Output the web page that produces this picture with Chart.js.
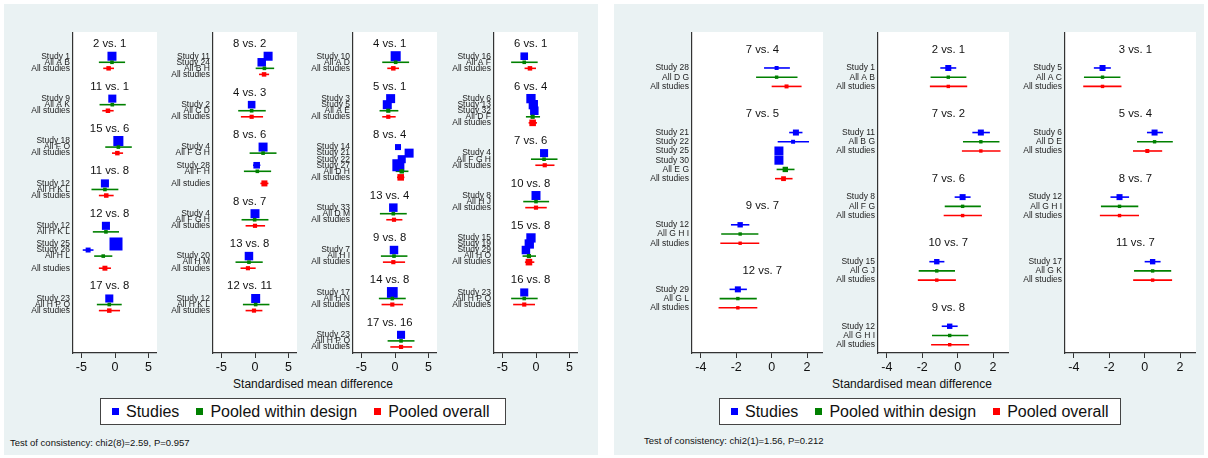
<!DOCTYPE html>
<html>
<head>
<meta charset="utf-8">
<script src="https://cdn.jsdelivr.net/npm/chart.js@4.4.1/dist/chart.umd.min.js"></script>
<style>
  html, body { margin: 0; padding: 0; }
  body { width: 1208px; height: 458px; position: relative; overflow: hidden; background: #fff;
         font-family: "Liberation Sans", Arial, sans-serif; }
  .panel { position: absolute; top: 4px; height: 451px; background: #eaf2f3; }
  canvas { position: absolute; }
  .title { position: absolute; top: 377px; font-size: 12px; color: #111; text-align: center; }
  .legend { position: absolute; top: 398px; height: 27px; background: #fff; border: 1px solid #444;
            display: flex; align-items: center; font-size: 16px; color: #111; box-sizing: border-box; }
  .legend .it { display: flex; align-items: center; margin-left: 11px; margin-right: 6px; }
  .legend .sw { display: inline-block; width: 7px; height: 7px; margin-right: 7px; }
  .note { position: absolute; font-size: 9.5px; color: #111; }
</style>
</head>
<body>
<div class="panel" style="left:4px;width:594px"></div>
<div class="panel" style="left:614px;width:590px"></div>

<div class="title" style="left:73px;width:480px">Standardised mean difference</div>
<div class="title" style="left:692px;width:440px">Standardised mean difference</div>

<div class="legend" style="left:100px;width:406px">
  <div class="it"><span class="sw" style="background:#0000ff"></span>Studies</div>
  <div class="it"><span class="sw" style="background:#008000"></span>Pooled within design</div>
  <div class="it"><span class="sw" style="background:#ff0000"></span>Pooled overall</div>
</div>
<div class="legend" style="left:719px;width:402px">
  <div class="it"><span class="sw" style="background:#0000ff"></span>Studies</div>
  <div class="it"><span class="sw" style="background:#008000"></span>Pooled within design</div>
  <div class="it"><span class="sw" style="background:#ff0000"></span>Pooled overall</div>
</div>

<div class="note" style="left:10px;top:437px">Test of consistency: chi2(8)=2.59, P=0.957</div>
<div class="note" style="left:644px;top:435px">Test of consistency: chi2(1)=1.56, P=0.212</div>

<script>
// ---- left figure, column 1 ----
const L1_rows = ['2 vs. 1', '', 'Study 1', 'All A B', 'All studies', '', '',
  '11 vs. 1', '', 'Study 9', 'All A K', 'All studies', '', '',
  '15 vs. 6', '', 'Study 18', 'All F O', 'All studies', '', '',
  '11 vs. 8', '', 'Study 12', 'All H K L', 'All studies', '', '',
  '12 vs. 8', '', 'Study 12', 'All H K L', '', 'Study 25', 'Study 26', 'All H L', '', 'All studies', '', '',
  '17 vs. 8', '', 'Study 23', 'All H P Q', 'All studies'];
const L1_est = [-0.45, -0.45, -0.95,  -0.4, -0.4, -1.05,  0.5, 0.5, 0.35,  -1.5, -1.5, -1.3,
  -1.35, -1.35, 0.15, -4.0, -1.75, -1.5,  -0.85, -0.85, -0.85];
const L1_lo = [-0.9, -2.4, -1.75,  -0.85, -2.3, -1.9,  0.0, -1.45, -0.45,  -2.0, -3.5, -2.4,
  -1.85, -3.3, -0.3, -4.8, -3.1, -2.4,  -1.3, -2.7, -2.4];
const L1_hi = [0.0, 1.5, -0.15,  0.05, 1.6, -0.2,  1.0, 2.5, 1.2,  -1.0, 0.5, -0.2,
  -0.85, 0.6, 0.6, -3.2, -0.4, -0.6,  -0.4, 1.0, 0.75];
const L1_wt = [56, 9, 14,  45, 9, 14,  70, 9, 14,  45, 9, 14,  45, 9, 117, 17, 9, 17,  45, 9, 14];

// ---- left figure, column 2 ----
const L2_rows = ['8 vs. 2', '', 'Study 11', 'Study 24', 'All B H', 'All studies', '', '',
  '4 vs. 3', '', 'Study 2', 'All C D', 'All studies', '', '',
  '8 vs. 6', '', 'Study 4', 'All F G H', '', 'Study 28', 'All F H', '', 'All studies', '', '',
  '8 vs. 7', '', 'Study 4', 'All F G H', 'All studies', '', '',
  '13 vs. 8', '', 'Study 20', 'All H M', 'All studies', '', '',
  '12 vs. 11', '', 'Study 12', 'All H K L', 'All studies'];
const L2_est = [1.95, 1.0, 1.4, 1.35,  -0.5, -0.5, -0.5,  1.2, 1.2, 0.25, 0.35, 1.4,
  0.0, -0.05, 0.0,  -0.9, -0.9, -1.05,  0.1, 0.1, -0.15];
const L2_lo = [1.5, 0.55, 0.1, 0.6,  -0.95, -2.5, -2.1,  0.7, -0.8, -0.3, -1.65, 0.8,
  -0.5, -2.0, -1.4,  -1.4, -2.9, -2.15,  -0.4, -1.8, -1.4];
const L2_hi = [2.4, 1.45, 2.85, 2.1,  -0.05, 1.6, 1.2,  1.7, 3.2, 0.8, 2.4, 2.0,
  0.5, 2.0, 1.5,  -0.4, 1.15, 0.1,  0.6, 2.15, 1.1];
const L2_wt = [56, 50, 9, 14,  40, 9, 12,  56, 9, 30, 9, 25,  56, 9, 12,  50, 9, 12,  56, 9, 12];

// ---- left figure, column 3 ----
const L3_rows = ['4 vs. 1', '', 'Study 10', 'All A D', 'All studies', '', '',
  '5 vs. 1', '', 'Study 3', 'Study 5', 'All A E', 'All studies', '', '',
  '8 vs. 4', '', 'Study 14', 'Study 21', 'Study 22', 'Study 27', 'All D H', 'All studies', '', '',
  '13 vs. 4', '', 'Study 33', 'All D M', 'All studies', '', '',
  '9 vs. 8', '', 'Study 7', 'All H I', 'All studies', '', '',
  '14 vs. 8', '', 'Study 17', 'All H N', 'All studies', '', '',
  '17 vs. 16', '', 'Study 23', 'All H P Q', 'All studies'];
const L3_est = [0.1, 0.1, -0.25,  -0.65, -1.15, -1.0, -1.0,  0.45, 2.1, 1.0, 0.5, 1.0, 0.85,
  -0.25, -0.25, -0.15,  -0.15, -0.15, -0.25,  -0.4, -0.4, -0.4,  0.9, 0.9, 0.9];
const L3_lo = [-0.4, -1.9, -1.15,  -1.15, -1.65, -2.3, -1.9,  0.0, 1.6, 0.5, 0.0, 0.1, 0.3,
  -0.75, -2.25, -1.3,  -0.65, -2.1, -1.8,  -0.9, -2.4, -2.0,  0.4, -1.1, -0.7];
const L3_hi = [0.6, 2.1, 0.6,  -0.15, -0.65, 0.5, 0.1,  0.9, 2.6, 1.5, 1.0, 2.0, 1.4,
  0.25, 1.75, 1.1,  0.35, 1.85, 1.5,  0.1, 1.6, 1.2,  1.4, 2.9, 2.55];
const L3_wt = [70, 9, 14,  56, 56, 12, 12,  25, 56, 45, 100, 14, 30,  50, 9, 12,  50, 9, 12,  80, 9, 12,  45, 9, 12];

// ---- left figure, column 4 ----
const L4_rows = ['6 vs. 1', '', 'Study 16', 'All A F', 'All studies', '', '',
  '6 vs. 4', '', 'Study 6', 'Study 13', 'Study 32', 'All D F', 'All studies', '', '',
  '7 vs. 6', '', 'Study 4', 'All F G H', 'All studies', '', '',
  '10 vs. 8', '', 'Study 8', 'All H J', 'All studies', '', '',
  '15 vs. 8', '', 'Study 15', 'Study 19', 'Study 29', 'All H O', 'All studies', '', '',
  '16 vs. 8', '', 'Study 23', 'All H P Q', 'All studies'];
const L4_est = [-1.75, -1.75, -0.9,  -0.75, -0.4, -0.25, -0.5, -0.5,  1.2, 1.2, 1.3,  0.0, 0.0, 0.0,
  -0.75, -1.0, -1.5, -1.05, -1.05,  -1.75, -1.75, -1.75];
const L4_lo = [-2.25, -3.7, -1.7,  -1.25, -0.9, -0.75, -1.5, -1.1,  0.7, -0.75, -0.1,  -0.5, -1.9, -1.6,
  -1.25, -1.5, -2.0, -2.0, -1.65,  -2.25, -3.7, -3.4];
const L4_hi = [-1.25, 0.25, 0.0,  -0.25, 0.1, 0.25, 0.6, 0.15,  1.7, 3.2, 2.75,  0.5, 1.95, 1.6,
  -0.25, -0.5, -1.0, 0.0, -0.25,  -1.25, 0.25, -0.15];
const L4_wt = [40, 9, 14,  60, 60, 50, 12, 30,  45, 9, 12,  56, 9, 12,  60, 60, 50, 12, 30,  45, 9, 12];

// ---- right figure, column 1 ----
const R1_rows = ['7 vs. 4', '', 'Study 28', 'All D G', 'All studies', '', '',
  '7 vs. 5', '', 'Study 21', 'Study 22', 'Study 25', 'Study 30', 'All E G', 'All studies', '', '',
  '9 vs. 7', '', 'Study 12', 'All G H I', 'All studies', '', '',
  '12 vs. 7', '', 'Study 29', 'All G L', 'All studies'];
const R1_est = [0.28, 0.28, 0.84,  1.37, 1.21, 0.41, 0.41, 0.77, 0.67,  -1.78, -1.78, -1.78,  -1.91, -1.91, -1.91];
const R1_lo = [-0.43, -0.88, 0.0,  0.99, 0.34, 0.2, 0.2, 0.28, 0.19,  -2.3, -2.85, -2.9,  -2.38, -2.94, -3.0];
const R1_hi = [1.03, 1.46, 1.69,  1.74, 2.11, 0.62, 0.62, 1.29, 1.18,  -1.26, -0.75, -0.7,  -1.4, -0.84, -0.81];
const R1_wt = [11, 8, 11,  25, 11, 56, 56, 20, 16,  20, 8, 8,  25, 8, 8];

// ---- right figure, column 2 ----
const R2_rows = ['2 vs. 1', '', 'Study 1', 'All A B', 'All studies', '', '',
  '7 vs. 2', '', 'Study 11', 'All B G', 'All studies', '', '',
  '7 vs. 6', '', 'Study 8', 'All F G', 'All studies', '', '',
  '10 vs. 7', '', 'Study 15', 'All G J', 'All studies', '', '',
  '9 vs. 8', '', 'Study 12', 'All G H I', 'All studies'];
const R2_est = [-0.53, -0.53, -0.53,  1.31, 1.31, 1.31,  0.28, 0.28, 0.28,  -1.18, -1.18, -1.18,  -0.45, -0.45, -0.45];
const R2_lo = [-0.98, -1.53, -1.57,  0.83, 0.3, 0.24,  -0.17, -0.73, -0.79,  -1.6, -2.2, -2.25,  -0.9, -1.45, -1.5];
const R2_hi = [-0.08, 0.49, 0.54,  1.82, 2.36, 2.42,  0.73, 1.31, 1.37,  -0.75, -0.15, -0.1,  0.0, 0.6, 0.65];
const R2_wt = [25, 8, 8,  25, 8, 8,  25, 8, 8,  20, 8, 8,  20, 8, 8];

// ---- right figure, column 3 ----
const R3_rows = ['3 vs. 1', '', 'Study 5', 'All A C', 'All studies', '', '',
  '5 vs. 4', '', 'Study 6', 'All D E', 'All studies', '', '',
  '8 vs. 7', '', 'Study 12', 'All G H I', 'All studies', '', '',
  '11 vs. 7', '', 'Study 17', 'All G K', 'All studies'];
const R3_est = [-2.38, -2.38, -2.38,  0.56, 0.56, 0.15,  -1.42, -1.42, -1.42,  0.45, 0.45, 0.45];
const R3_lo = [-2.87, -3.43, -3.47,  0.13, -0.43, -0.66,  -1.93, -2.47, -2.53,  0.0, -0.6, -0.65];
const R3_hi = [-1.91, -1.37, -1.31,  1.03, 1.59, 0.99,  -0.88, -0.36, -0.32,  0.9, 1.5, 1.55];
const R3_wt = [25, 8, 8,  25, 8, 11,  25, 8, 8,  20, 8, 8];

const xTicksLeft = [-5, 0, 5];
const xTicksRight = [-4, -2, 0, 2];

const FONT = '"Liberation Sans", Arial, sans-serif';
const COLORS = { study: '#0000ff', design: '#008000', overall: '#ff0000' };

// middle of all intervals, used to centre the comparison headings like Stata does
function midpoint(list) {
    let lo = Infinity, hi = -Infinity;
    list.forEach(a => a.forEach(v => { lo = Math.min(lo, v); hi = Math.max(hi, v); }));
    return (lo + hi) / 2;
}

function drawColumn(c) {
    const yW = 70, xH = 26, plotH = 321;
    const canvas = document.createElement('canvas');
    canvas.width = yW + c.plotW;
    canvas.height = plotH + xH;
    canvas.style.left = (c.axisX - yW) + 'px';
    canvas.style.top = '32px';
    document.body.appendChild(canvas);

    const labelAt = {};
    const labelled = [];
    const pts = { study: [], design: [], overall: [] };
    let k = 0;
    c.rows.forEach((r, i) => {
        if (!r || r.includes(' vs. ')) return;
        labelAt[i] = r;
        labelled.push(i);
        const kind = r.startsWith('Study') ? 'study' : (r === 'All studies' ? 'overall' : 'design');
        pts[kind].push({ x: c.est[k], y: i, lo: c.lo[k], hi: c.hi[k], r: 0.85 * Math.sqrt(c.wt[k]) });
        k++;
    });

    const datasets = ['design', 'overall', 'study'].map(kind => ({
        data: pts[kind],
        pointStyle: 'rect',
        pointRadius: pts[kind].map(p => p.r),
        backgroundColor: COLORS[kind],
        borderWidth: 0
    }));

    // white plot region
    const plotBg = {
        id: 'plotBg',
        beforeDraw(chart) {
            const a = chart.chartArea;
            chart.ctx.save();
            chart.ctx.fillStyle = '#fff';
            chart.ctx.fillRect(a.left, a.top, a.right - a.left, a.bottom - a.top);
            chart.ctx.restore();
        }
    };

    // confidence intervals as horizontal lines
    const whiskers = {
        id: 'whiskers',
        beforeDatasetsDraw(chart) {
            const { ctx, scales: { x, y } } = chart;
            ctx.save();
            ctx.lineWidth = 1.6;
            chart.data.datasets.forEach(ds => {
                ctx.strokeStyle = ds.backgroundColor;
                ds.data.forEach(p => {
                    const py = y.getPixelForValue(p.y);
                    ctx.beginPath();
                    ctx.moveTo(x.getPixelForValue(p.lo), py);
                    ctx.lineTo(x.getPixelForValue(p.hi), py);
                    ctx.stroke();
                });
            });
            ctx.restore();
        }
    };

    // "2 vs. 1" headings
    const headings = {
        id: 'headings',
        afterDatasetsDraw(chart) {
            const { ctx, scales: { x, y } } = chart;
            ctx.save();
            ctx.font = '11.3px ' + FONT;
            ctx.fillStyle = '#111';
            ctx.textAlign = 'center';
            ctx.textBaseline = 'middle';
            c.rows.forEach((r, i) => {
                if (r.includes(' vs. ')) ctx.fillText(r, x.getPixelForValue(c.headX), y.getPixelForValue(i));
            });
            ctx.restore();
        }
    };

    return new Chart(canvas, {
        type: 'scatter',
        data: { datasets: datasets },
        plugins: [plotBg, whiskers, headings],
        options: {
            responsive: false,
            animation: false,
            events: [],
            layout: { padding: 0, autoPadding: false },
            plugins: { legend: { display: false }, tooltip: { enabled: false } },
            scales: {
                x: {
                    type: 'linear', min: c.xMin, max: c.xMax,
                    afterBuildTicks: s => { s.ticks = c.xTicks.map(v => ({ value: v })); },
                    afterFit: s => { s.height = xH; s.paddingLeft = 0; s.paddingRight = 0; },
                    grid: { drawOnChartArea: false, drawTicks: true, tickLength: 5, color: '#333', lineWidth: 1 },
                    border: { display: true, color: '#333', width: 1.2 },
                    ticks: { autoSkip: false, maxRotation: 0, padding: 2, color: '#111', font: { family: FONT, size: 12.5 } }
                },
                y: {
                    type: 'linear', reverse: true, min: c.yMin, max: c.yMax,
                    afterBuildTicks: s => { s.ticks = labelled.map(v => ({ value: v })); },
                    afterFit: s => { s.width = yW; s.paddingTop = 0; s.paddingBottom = 0; },
                    grid: { drawOnChartArea: false, drawTicks: false },
                    border: { display: true, color: '#333', width: 1.2 },
                    ticks: { autoSkip: false, padding: 3, color: '#222', font: { family: FONT, size: 8.5 },
                             callback: v => labelAt[v] }
                }
            }
        }
    });
}

const leftMid = midpoint([L1_lo, L1_hi, L2_lo, L2_hi, L3_lo, L3_hi, L4_lo, L4_hi]);
const rightMid = midpoint([R1_lo, R1_hi, R2_lo, R2_hi, R3_lo, R3_hi]);

const leftCols = [
    { rows: L1_rows, est: L1_est, lo: L1_lo, hi: L1_hi, wt: L1_wt, axisX: 73 },
    { rows: L2_rows, est: L2_est, lo: L2_lo, hi: L2_hi, wt: L2_wt, axisX: 213 },
    { rows: L3_rows, est: L3_est, lo: L3_lo, hi: L3_hi, wt: L3_wt, axisX: 353 },
    { rows: L4_rows, est: L4_est, lo: L4_lo, hi: L4_hi, wt: L4_wt, axisX: 494 }
];
leftCols.forEach(c => drawColumn(Object.assign(c, {
    plotW: 84, xMin: -6.25, xMax: 6.25, xTicks: xTicksLeft, yMin: -2, yMax: 51, headX: leftMid
})));

const rightCols = [
    { rows: R1_rows, est: R1_est, lo: R1_lo, hi: R1_hi, wt: R1_wt, axisX: 692 },
    { rows: R2_rows, est: R2_est, lo: R2_lo, hi: R2_hi, wt: R2_wt, axisX: 878 },
    { rows: R3_rows, est: R3_est, lo: R3_lo, hi: R3_hi, wt: R3_wt, axisX: 1065 }
];
rightCols.forEach(c => drawColumn(Object.assign(c, {
    plotW: 131, xMin: -4.5, xMax: 2.9, xTicks: xTicksRight, yMin: -1.9, yMax: 32.9, headX: rightMid
})));
</script>
</body>
</html>
